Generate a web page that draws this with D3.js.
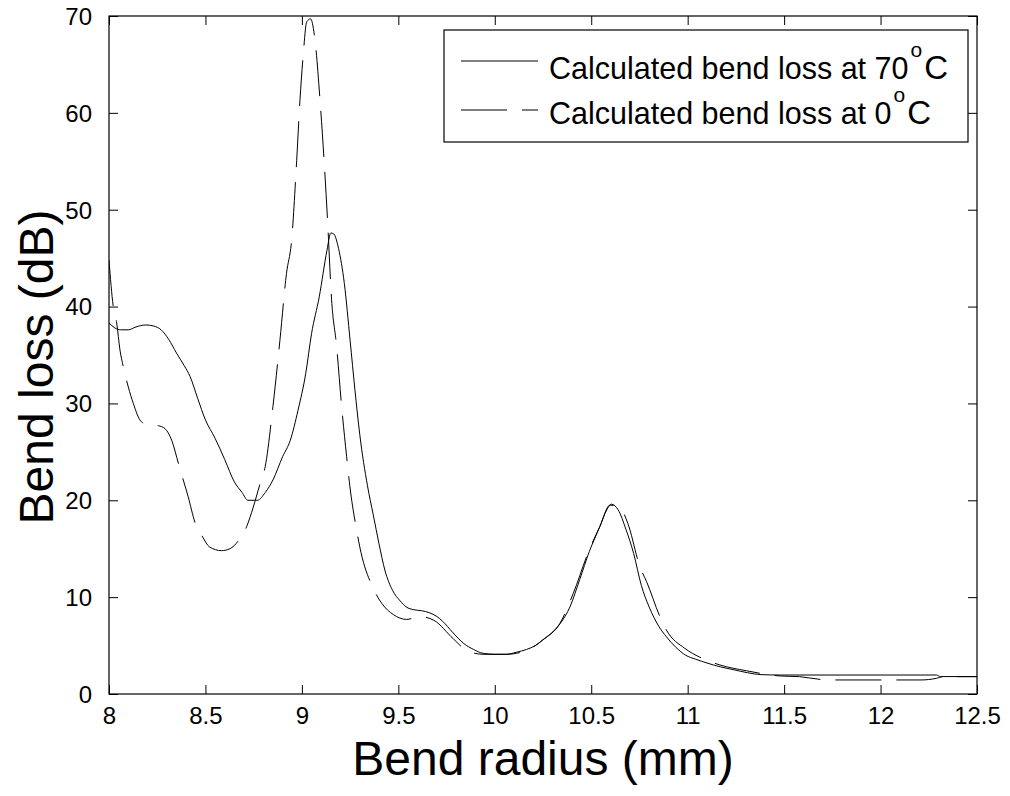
<!DOCTYPE html>
<html>
<head>
<meta charset="utf-8">
<script src="https://cdn.jsdelivr.net/npm/d3@7"></script>
<style>
  html, body { margin: 0; padding: 0; background: #fff; }
  svg { display: block; }
  text { font-family: "Liberation Sans", Arial, Helvetica, sans-serif; fill: #000; }
</style>
</head>
<body>
<svg id="chart" width="1010" height="796"></svg>
<script>
// ---- data ----
const radius70 = [8.00, 8.03, 8.06, 8.10, 8.14, 8.19, 8.23, 8.27, 8.31, 8.35, 8.39, 8.42, 8.46, 8.50, 8.55, 8.60, 8.65, 8.69, 8.72, 8.77, 8.81, 8.85, 8.90, 8.94, 8.98, 9.02, 9.05, 9.09, 9.13, 9.15, 9.165, 9.19, 9.22, 9.25, 9.275, 9.30, 9.34, 9.37, 9.40, 9.43, 9.47, 9.51, 9.54, 9.58, 9.62, 9.66, 9.70, 9.73, 9.78, 9.84, 9.89, 9.94, 10.00, 10.06, 10.11, 10.165, 10.21, 10.25, 10.30, 10.34, 10.39, 10.44, 10.49, 10.545, 10.58, 10.605, 10.64, 10.68, 10.72, 10.76, 10.80, 10.85, 10.89, 10.94, 10.99, 11.04, 11.10, 11.17, 11.24, 11.31, 11.38, 11.48, 11.80, 12.10, 12.29, 12.31, 12.50];
const loss70   = [38.3, 37.8, 37.6, 37.6, 37.9, 38.1, 38.0, 37.6, 36.6, 35.2, 33.9, 32.8, 30.5, 28.3, 26.4, 24.2, 21.9, 20.8, 20.0, 20.0, 20.8, 22.1, 24.5, 26.2, 29.3, 33.1, 37.2, 41.0, 45.8, 47.6, 47.5, 46.0, 42.4, 36.5, 31.4, 26.8, 21.5, 18.5, 15.5, 12.8, 10.7, 9.6, 9.0, 8.7, 8.6, 8.4, 8.0, 7.5, 6.4, 5.2, 4.6, 4.2, 4.1, 4.1, 4.3, 4.6, 5.0, 5.6, 6.4, 7.3, 9.0, 11.8, 14.7, 17.3, 19.0, 19.6, 19.0, 17.0, 14.5, 11.2, 9.0, 7.0, 5.9, 4.8, 4.0, 3.6, 3.2, 2.8, 2.5, 2.2, 2.0, 1.96, 1.96, 1.96, 1.96, 1.8, 1.8];

const radius0 = [8.00, 8.022, 8.04, 8.057, 8.074, 8.10, 8.126, 8.16, 8.187, 8.22, 8.256, 8.29, 8.325, 8.36, 8.385, 8.41, 8.446, 8.486, 8.52, 8.584, 8.627, 8.67, 8.714, 8.748, 8.783, 8.81, 8.85, 8.886, 8.92, 8.947, 8.973, 8.99, 9.007, 9.025, 9.045, 9.068, 9.094, 9.116, 9.133, 9.154, 9.18, 9.206, 9.232, 9.249, 9.284, 9.30, 9.37, 9.414, 9.474, 9.543, 9.61, 9.685, 9.785, 9.854, 9.94, 10.06, 10.165, 10.25, 10.338, 10.407, 10.49, 10.545, 10.597, 10.65, 10.69, 10.753, 10.787, 10.856, 10.89, 10.986, 11.063, 11.167, 11.305, 11.48, 11.58, 11.686, 11.753, 12.21, 12.29, 12.325, 12.50];
const loss0   = [44.8, 40.0, 38.3, 35.5, 33.8, 31.7, 30.0, 28.3, 27.9, 27.8, 27.7, 27.4, 26.2, 23.8, 22.1, 20.4, 17.7, 16.2, 15.2, 14.8, 15.0, 15.8, 17.3, 19.3, 21.7, 23.5, 29.7, 36.5, 43.4, 46.9, 55.1, 61.3, 66.0, 69.4, 69.7, 67.5, 61.3, 54.8, 48.9, 40.7, 35.9, 29.7, 24.5, 21.4, 16.9, 15.2, 10.9, 9.36, 8.2, 7.7, 8.0, 7.6, 5.7, 4.5, 4.1, 4.1, 4.5, 5.6, 7.3, 10.4, 14.9, 17.3, 19.5, 19.2, 17.6, 13.1, 11.6, 8.0, 6.6, 4.7, 3.8, 3.0, 2.4, 1.86, 1.79, 1.51, 1.45, 1.45, 1.62, 1.79, 1.79];

const xTicks = [8, 8.5, 9, 9.5, 10, 10.5, 11, 11.5, 12, 12.5];
const yTicks = [0, 10, 20, 30, 40, 50, 60, 70];
const xTickLabels = ["8", "8.5", "9", "9.5", "10", "10.5", "11", "11.5", "12", "12.5"];
const yTickLabels = ["0", "10", "20", "30", "40", "50", "60", "70"];
const seriesNames = ["Calculated bend loss at 70", "Calculated bend loss at 0"];
const xTitle = "Bend radius (mm)";
const yTitle = "Bend loss (dB)";

// ---- layout ----
const L = 109, R = 977, T = 16, B = 694;
const svg = d3.select("#chart");
const x = d3.scaleLinear().domain([8, 12.5]).range([L, R]);
const y = d3.scaleLinear().domain([0, 70]).range([B, T]);

svg.append("defs").append("clipPath").attr("id", "clip")
  .append("rect").attr("x", L).attr("y", T).attr("width", R - L).attr("height", B - T);

const tickLen = 9;
const gx = svg.append("g").attr("transform", `translate(0,${B})`)
  .call(d3.axisBottom(x).tickValues(xTicks).tickFormat((d, i) => xTickLabels[i]).tickSizeInner(-tickLen).tickSizeOuter(0).tickPadding(20));
const gxt = svg.append("g").attr("transform", `translate(0,${T})`)
  .call(d3.axisTop(x).tickValues(xTicks).tickFormat("").tickSizeInner(-tickLen).tickSizeOuter(0));
const gy = svg.append("g").attr("transform", `translate(${L},0)`)
  .call(d3.axisLeft(y).tickValues(yTicks).tickFormat((d, i) => yTickLabels[i]).tickSizeInner(-tickLen).tickSizeOuter(0).tickPadding(8 + tickLen));
const gyr = svg.append("g").attr("transform", `translate(${R},0)`)
  .call(d3.axisRight(y).tickValues(yTicks).tickFormat("").tickSizeInner(-tickLen).tickSizeOuter(0));

[gx, gxt, gy, gyr].forEach(g => {
  g.select(".domain").remove();
  g.selectAll(".tick line").attr("stroke", "#000").attr("stroke-width", 1);
  g.selectAll("text").attr("font-size", 24).attr("fill", "#000")
    .attr("font-family", "'Liberation Sans', Arial, Helvetica, sans-serif");
});
gx.selectAll(".tick text").attr("dy", "0.71em").attr("y", 13);
gy.selectAll(".tick text").attr("dy", "0.35em");

// plot frame
svg.append("rect").attr("x", L).attr("y", T).attr("width", R - L).attr("height", B - T)
  .attr("fill", "none").attr("stroke", "#000").attr("stroke-width", 1.2);

// lines
const line = d3.line().x(d => x(d[0])).y(d => y(d[1])).curve(d3.curveMonotoneX);
const data70 = radius70.map((r, i) => [r, loss70[i]]);
const data0 = radius0.map((r, i) => [r, loss0[i]]);
const plotG = svg.append("g").attr("clip-path", "url(#clip)");
plotG.append("path").datum(data70).attr("d", line)
  .attr("fill", "none").attr("stroke", "#000").attr("stroke-width", 1);
plotG.append("path").datum(data0).attr("d", line)
  .attr("fill", "none").attr("stroke", "#000").attr("stroke-width", 1)
  .attr("stroke-dasharray", "46,15");

// axis titles
svg.append("text").attr("x", (L + R) / 2).attr("y", 775).attr("text-anchor", "middle")
  .attr("font-size", 48).text(xTitle);
svg.append("text").attr("transform", `translate(53,${(T + B) / 2 + 12}) rotate(-90)`)
  .attr("text-anchor", "middle").attr("font-size", 48).text(yTitle);

// legend
const lg = svg.append("g");
lg.append("rect").attr("x", 444).attr("y", 30).attr("width", 524).attr("height", 112)
  .attr("fill", "#fff").attr("stroke", "#000").attr("stroke-width", 1.2);
const legendRows = [
  { name: seriesNames[0], dash: null, ly: 61, ty: 79 },
  { name: seriesNames[1], dash: "46,15", ly: 110, ty: 124 }
];
legendRows.forEach(r => {
  const l = lg.append("line").attr("x1", 461).attr("x2", 538).attr("y1", r.ly).attr("y2", r.ly)
    .attr("stroke", "#000").attr("stroke-width", 1);
  if (r.dash) l.attr("stroke-dasharray", r.dash);
  const t = lg.append("text").attr("x", 549).attr("y", r.ty).attr("font-size", 30.5);
  t.append("tspan").text(r.name);
  t.append("tspan").attr("font-size", 21).attr("dy", -22).attr("dx", 2).text("o");
  t.append("tspan").attr("dy", 22).attr("dx", 2).attr("font-size", 33).text("C");
});
</script>
</body>
</html>
